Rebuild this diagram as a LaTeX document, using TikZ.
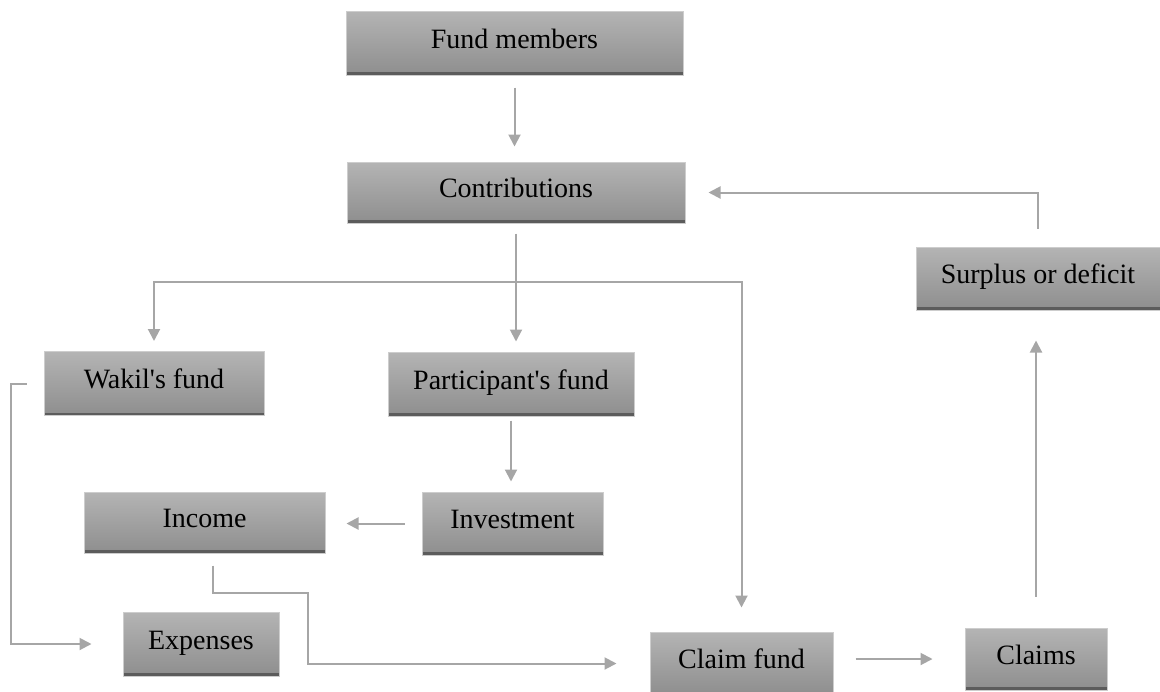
\documentclass[tikz,border=0pt]{standalone}
\usepackage{fontspec}
\setmainfont{Liberation Serif}[Ligatures=TeXOff]
\usetikzlibrary{arrows.meta,positioning}
\definecolor{boxtop}{RGB}{180,180,180}
\definecolor{boxbot}{RGB}{142,142,142}
\definecolor{boxedge}{RGB}{92,92,92}
\definecolor{boxline}{RGB}{205,205,205}
\definecolor{arrgray}{RGB}{166,166,166}

\begin{document}
\begin{tikzpicture}[x=0.5pt,y=-0.5pt]
	\tikzset{
		box/.style = {rectangle, draw=boxline, line width=0.5pt, top color=boxtop, bottom color=boxbot,
			font=\fontsize{14}{16}\selectfont, text height=10pt, text depth=5pt, inner sep=0pt,
			minimum height=32pt,
			path picture={\draw[boxedge, line width=3pt] (path picture bounding box.south west) -- (path picture bounding box.south east);}},
		arr/.style = {arrgray, line width=1pt, -{Triangle[length=6pt,width=6pt]}}
	}
	\useasboundingbox (0,0) rectangle (1160,691);
	\clip (0,0) rectangle (1160,691);

	\node[box, minimum width=168.5pt] (fund) at (514.5,43) {Fund members};
	\node[box, minimum width=169pt, minimum height=30.5pt] (contrib) at (516,192.5) {Contributions};
	\node[box, minimum width=110pt] (wakil) at (154,383.5) {Wakil's fund};
	\node[box, minimum width=123pt] (part) at (511,384) {Participant's fund};
	\node[box, minimum width=90.5pt, minimum height=31.5pt] (invest) at (512.5,523.5) {Investment};
	\node[box, minimum width=120.5pt, minimum height=30.5pt] (income) at (204.5,522.5) {Income};
	\node[box, minimum width=78pt] (expense) at (201,644) {Expenses};
	\node[box, minimum width=91.5pt, minimum height=31.5pt] (claimfund) at (741.5,663.5) {Claim fund};
	\node[box, minimum width=71pt, minimum height=31pt] (claims) at (1036,659) {Claims};
	\node[box, minimum width=122pt, minimum height=31.5pt] (surplus) at (1038,278.5) {Surplus or deficit};
	\coordinate (split) at ([yshift=-29pt]contrib.south);

	\draw[arr, shorten <=6pt, shorten >=7.5pt] (fund.south) -- (fund.south |- contrib.north);
	\draw[arr, shorten >=5pt] ([yshift=-5pt]contrib.south) -- (split |- part.north);
	\draw[arr, shorten >=5pt] (split) -| (wakil.north);
	\draw[arr, shorten >=12pt] (split) -| (claimfund.north);
	\draw[arr, shorten <=2pt, shorten >=5pt] (part.south) -- (part.south |- invest.north);
	\draw[arr, shorten <=8.5pt, shorten >=10.5pt] (invest.west) -- (invest.west -| income.east);
	\draw[arr] ([xshift=-8.5pt]wakil.west) -- ++(-16,0) |- ([xshift=-15.5pt]expense.west);
	\draw[arr] ([xshift=4pt,yshift=-6pt]income.south) |- ++(95,27) |- ([xshift=-16.5pt]claimfund.west);
	\draw[arr, shorten <=11pt, shorten >=16pt] (claimfund.east |- claims.west) -- (claims.west);
	\draw[arr, shorten <=15.5pt, shorten >=15pt] (claims.north) -- (claims.north |- surplus.south);
	\draw[arr] ([yshift=9pt]surplus.north) |- ([xshift=11.5pt]contrib.east);
\end{tikzpicture}
\end{document}
